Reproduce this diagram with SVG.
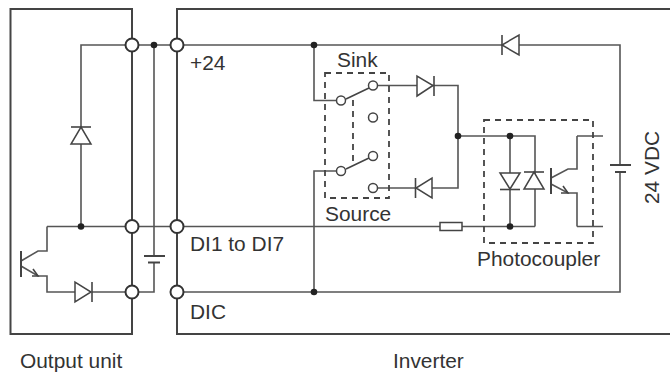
<svg xmlns="http://www.w3.org/2000/svg" width="670" height="376" viewBox="0 0 670 376">
<style>
text{font-family:"Liberation Sans",Arial,sans-serif;font-size:20.900px;fill:#333}
.b{fill:none;stroke:#444;stroke-width:2}
.w{fill:none;stroke:#555;stroke-width:1.6}
.s{fill:none;stroke:#444;stroke-width:1.6}
.f{fill:#fff;stroke:#444;stroke-width:1.5}
.d{fill:none;stroke:#444;stroke-width:1.8;stroke-dasharray:6 5}
.t{fill:#fff;stroke:#333;stroke-width:2}
.c{fill:#fff;stroke:#444;stroke-width:1.5}
.p{fill:#222}
</style>
<rect width="670" height="376" fill="#fff"/>
<g id="connectors">
<path class="w" d="M81 226.500V45H620V165M620 172V292H177M154 45V256M154 262V292H92M47 226.500H440M462 226.500H535M47 226.500V251H38L21 261M21 266L38 276H47V292H75"/>
<path class="w" d="M314 45V100.500H336M341 171H314V292M378 85.500H458V188H378M458 136H535V226.500M510 136V226.500M577 136H603M577 226.500H603M577 136V169H568L551 178M551 184L568 193H577V226.500"/>
<path class="s" d="M346 99L369 88M346 169L369 158M561 193L568 193L563 186"/>
<path class="s" d="M32 276L38 276L33 269"/>
</g>
<g id="output-unit"><path class="b" d="M132 45V9H10.500V334H132V45"/>
<path class="b" d="M21 251V277"/></g>
<g id="inverter"><path class="b" d="M670 9H177V334H670"/>
</g>
<g id="terminals">
<circle class="t" cx="132" cy="45" r="6.500"/><circle class="t" cx="177" cy="45" r="6.500"/>
<circle class="t" cx="132" cy="226.500" r="6.500"/><circle class="t" cx="177" cy="226.500" r="6.500"/>
<circle class="t" cx="132" cy="292" r="6.500"/><circle class="t" cx="177" cy="292" r="6.500"/>
</g>
<g id="dots">
<circle class="p" cx="154" cy="45" r="3.300"/><circle class="p" cx="81" cy="226.500" r="3.300"/>
<circle class="p" cx="314" cy="45" r="3.300"/><circle class="p" cx="314" cy="292" r="3.300"/>
<circle class="p" cx="458" cy="136" r="3.300"/><circle class="p" cx="510" cy="136" r="3.300"/><circle class="p" cx="510" cy="226.500" r="3.300"/>
</g>
<g id="diode-left"><path class="f" d="M71 144H91L81 127Z"/><path class="s" d="M71 127H91"/></g>
<g id="diode-output"><path class="f" d="M75 282V302L91 292Z"/><path class="s" d="M92 282V302"/></g>
<g id="capacitor-output"><path class="b" d="M144 256H165"/><path class="b" stroke-width="3" d="M148 262.500H160"/></g>
<g id="diode-top"><path class="f" d="M519 35V55L502 45Z"/><path class="s" d="M502 35V55"/></g>
<g id="diode-sink"><path class="f" d="M417 76V96L433 85.500Z"/><path class="s" d="M434 76V96"/></g>
<g id="diode-source"><path class="f" d="M432 178V198L416 188Z"/><path class="s" d="M415.500 178V198"/></g>
<g id="switch">
<circle class="c" cx="341" cy="100.500" r="4.500"/><circle class="c" cx="373" cy="85.500" r="4.500"/>
<circle class="c" cx="373" cy="117.500" r="4.500"/><circle class="c" cx="373" cy="156" r="4.500"/>
<circle class="c" cx="341" cy="171" r="4.500"/><circle class="c" cx="373" cy="188" r="4.500"/>
<rect class="d" x="325" y="73" width="64" height="125"/>
<path class="d" d="M353 100V162"/>
</g>
<g id="resistor"><rect class="f" x="440" y="222.500" width="22" height="8"/></g>
<g id="photocoupler">
<rect class="d" x="484" y="120" width="109" height="123"/>
<path class="f" d="M500 173H520L510 189Z"/><path class="s" d="M500 189.500H520"/>
<path class="f" d="M524 189H544L534 172Z"/><path class="s" d="M524 172H544"/>
<path class="b" d="M551 168V194"/>
</g>
<g id="battery"><path class="b" d="M610 165H631"/><path class="b" stroke-width="3" d="M615 172H626"/></g>
<g id="labels">
<text x="337" y="67">Sink</text>
<text x="190" y="70">+24</text>
<text x="190" y="251">DI1 to DI7</text>
<text x="190" y="319">DIC</text>
<text x="325" y="221">Source</text>
<text x="477" y="266">Photocoupler</text>
<text transform="translate(659 204) rotate(-90)">24 VDC</text>
<text x="20" y="368">Output unit</text>
<text x="393" y="368">Inverter</text>
</g>
</svg>
